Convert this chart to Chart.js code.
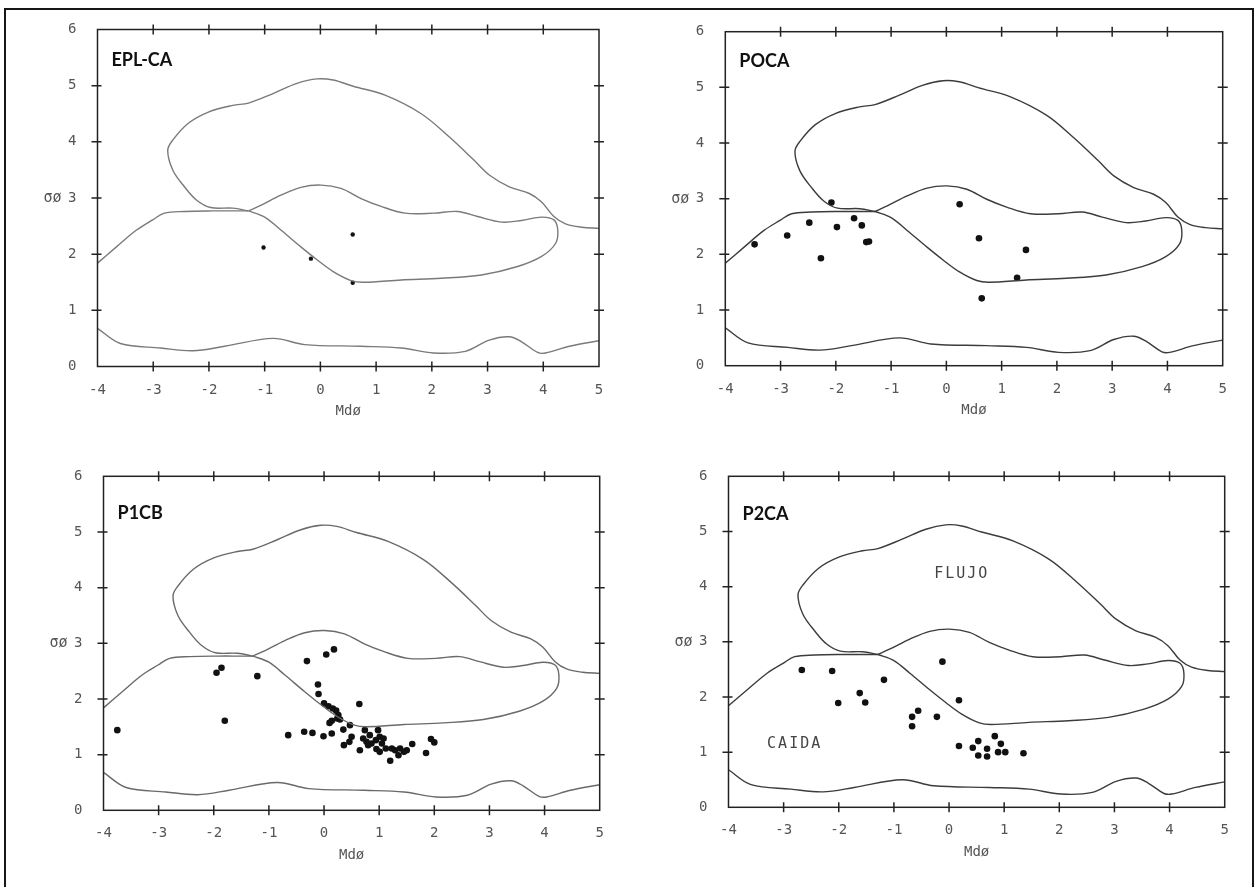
<!DOCTYPE html>
<html>
<head>
<meta charset="utf-8">
<script src="https://cdn.jsdelivr.net/npm/chart.js@4.4.1/dist/chart.umd.min.js"></script>
<style>
  body { margin: 0; background: #fff; }
  #fig { position: relative; width: 1258px; height: 887px; overflow: hidden; }
  #fig canvas { position: absolute; }
  #frame { position: absolute; left: 4px; top: 8px; width: 1246px; height: 900px;
           border: 2px solid #161616; border-bottom: none; }
</style>
</head>
<body>
<div id="fig">
  <div id="frame"></div>
  <canvas id="c1" width="629" height="443" style="left:0;top:0"></canvas>
  <canvas id="c2" width="629" height="443" style="left:629px;top:0"></canvas>
  <canvas id="c3" width="629" height="444" style="left:0;top:443px"></canvas>
  <canvas id="c4" width="629" height="444" style="left:629px;top:443px"></canvas>
</div>
<script>
// ---- ejes ----
const xTickValues = [-4, -3, -2, -1, 0, 1, 2, 3, 4, 5];
const yTickValues = [0, 1, 2, 3, 4, 5, 6];
const panelNames = ['EPL-CA', 'POCA', 'P1CB', 'P2CA'];

// ---- campos (Md, sigma) ----
// campo superior (flujo) con su cola hacia la derecha
const upperMd    = [-1.29, -1.57, -1.97, -2.22, -2.44, -2.65, -2.74, -2.65, -2.37, -2.01, -1.57, -1.29, -0.85, -0.42, -0.06, 0.23, 0.59, 1.16, 1.81, 2.31, 2.75, 3.03, 3.39, 3.75, 3.97, 4.19, 4.40, 4.69, 5.0];
const upperSigma = [2.77, 2.82, 2.83, 2.96, 3.20, 3.50, 3.85, 4.03, 4.33, 4.53, 4.65, 4.69, 4.86, 5.04, 5.12, 5.10, 4.99, 4.83, 4.50, 4.09, 3.68, 3.41, 3.20, 3.08, 2.93, 2.67, 2.54, 2.48, 2.46];
// bucle central
const middleMd    = [-1.29, -1.07, -0.71, -0.35, 0.01, 0.37, 0.73, 1.09, 1.52, 2.03, 2.46, 2.82, 3.25, 3.61, 3.97, 4.19, 4.26, 4.22, 3.97, 3.54, 2.89, 2.17, 1.45, 0.77, 0.55, 0.23, -0.06, -0.35, -0.71, -1.0, -1.29];
const middleSigma = [2.77, 2.87, 3.05, 3.19, 3.23, 3.17, 2.99, 2.85, 2.73, 2.73, 2.76, 2.67, 2.57, 2.60, 2.66, 2.61, 2.43, 2.19, 1.96, 1.78, 1.63, 1.57, 1.54, 1.50, 1.53, 1.69, 1.90, 2.13, 2.43, 2.66, 2.77];
// limite izquierdo (caida)
const leftMd    = [-4.0, -3.66, -3.30, -3.01, -2.80, -2.44, -1.93, -1.50, -1.29];
const leftSigma = [1.84, 2.13, 2.43, 2.61, 2.73, 2.76, 2.77, 2.77, 2.77];
// limite inferior
const lowerMd    = [-4.0, -3.59, -2.87, -2.29, -1.72, -0.85, -0.28, 0.73, 1.45, 2.03, 2.60, 3.03, 3.39, 3.61, 3.90, 4.04, 4.47, 5.0];
const lowerSigma = [0.68, 0.41, 0.33, 0.28, 0.36, 0.50, 0.39, 0.36, 0.33, 0.24, 0.27, 0.47, 0.53, 0.44, 0.25, 0.24, 0.36, 0.46];

// ---- muestras ----
const eplMd    = [-1.02, -0.17, 0.58, 0.58];
const eplSigma = [2.12, 1.92, 2.35, 1.49];

const pocaMd    = [-3.47, -2.88, -2.48, -2.27, -2.08, -1.98, -1.67, -1.53, -1.45, -1.40, 0.24, 0.59, 1.44, 1.28, 0.64];
const pocaSigma = [2.18, 2.34, 2.57, 1.93, 2.93, 2.49, 2.65, 2.52, 2.22, 2.23, 2.90, 2.29, 2.08, 1.58, 1.21];

const p1cbMd    = [-3.75, -1.95, -1.86, -1.80, -1.21, -0.31, 0.04, 0.18, -0.11,
                   -0.10, 0.0, 0.08, 0.16, 0.22, 0.26, 0.24, 0.14, 0.10, 0.29, 0.64,
                   -0.65, -0.36, -0.21, -0.01, 0.14, 0.35, 0.47, 0.50, 0.46, 0.36, 0.65,
                   0.74, 0.71, 0.77, 0.83, 0.86, 0.94, 0.98, 1.01, 1.08, 0.95, 1.01, 1.12,
                   1.20, 1.23, 1.29, 1.35, 1.38, 1.45, 1.50, 1.60, 1.85, 1.94, 2.0, 0.80, 1.05];
const p1cbSigma = [1.44, 2.47, 2.56, 1.61, 2.41, 2.68, 2.80, 2.89, 2.26,
                   2.09, 1.92, 1.87, 1.83, 1.79, 1.71, 1.65, 1.61, 1.57, 1.63, 1.91,
                   1.35, 1.41, 1.39, 1.33, 1.38, 1.45, 1.53, 1.32, 1.23, 1.17, 1.08,
                   1.44, 1.29, 1.23, 1.35, 1.20, 1.26, 1.44, 1.32, 1.29, 1.10, 1.05, 1.11,
                   0.89, 1.11, 1.08, 0.99, 1.11, 1.05, 1.08, 1.19, 1.03, 1.28, 1.22, 1.17, 1.20];

const p2caMd    = [-2.67, -2.12, -2.01, -1.62, -1.52, -1.18, -0.67, -0.67, -0.56, -0.22, -0.12, 0.18, 0.18, 0.43, 0.53, 0.53, 0.69, 0.69, 0.83, 0.89, 0.94, 1.02, 1.35];
const p2caSigma = [2.49, 2.47, 1.89, 2.07, 1.90, 2.31, 1.64, 1.47, 1.75, 1.64, 2.64, 1.94, 1.11, 1.08, 1.20, 0.94, 1.06, 0.92, 1.29, 1.00, 1.15, 1.00, 0.98];

const fieldLabels = [{ text: 'FLUJO', md: 0.23, sigma: 4.22 }, { text: 'CAIDA', md: -2.8, sigma: 1.15 }];

function pairs(xs, ys) { return xs.map((v, i) => ({ x: v, y: ys[i] })); }

const framePlugin = {
  id: 'frame',
  afterDraw(chart, args, opts) {
    const { ctx, chartArea: a, scales: { x, y } } = chart;
    ctx.save();
    ctx.strokeStyle = '#222';
    ctx.lineWidth = 1.5;
    ctx.strokeRect(a.left, a.top, a.width, a.height);
    ctx.beginPath();
    xTickValues.slice(1, -1).forEach(v => {
      const px = x.getPixelForValue(v);
      ctx.moveTo(px, a.top - 5); ctx.lineTo(px, a.top + 5);
      ctx.moveTo(px, a.bottom - 5); ctx.lineTo(px, a.bottom + 5);
    });
    yTickValues.slice(1, -1).forEach(v => {
      const py = y.getPixelForValue(v);
      ctx.moveTo(a.left - 6, py); ctx.lineTo(a.left + 4, py);
      ctx.moveTo(a.right - 5, py); ctx.lineTo(a.right + 5, py);
    });
    ctx.stroke();

    // nombre de la muestra
    ctx.fillStyle = '#111';
    ctx.font = 'bold 18px Lato';
    ctx.textBaseline = 'middle';
    ctx.textAlign = 'left';
    ctx.fillText(opts.title, a.left + 14, a.top + opts.titleDy);

    // titulos de ejes
    ctx.fillStyle = '#555';
    ctx.font = '14px "DejaVu Sans Mono"';
    ctx.textAlign = 'center';
    ctx.fillText('Mdø', (a.left + a.right) / 2, a.bottom + 45);
    ctx.textAlign = 'right';
    ctx.font = '15px "DejaVu Sans Mono"';
    ctx.fillText('σø', a.left - 36, y.getPixelForValue(3));

    if (opts.labels) {
      ctx.fillStyle = '#444';
      ctx.font = '15px "DejaVu Sans Mono"';
      ctx.letterSpacing = '2px';
      ctx.textAlign = 'center';
      opts.labels.forEach(l => ctx.fillText(l.text, x.getPixelForValue(l.md), y.getPixelForValue(l.sigma)));
    }
    ctx.restore();
  }
};

function makePanel(id, idx, md, sigma, opt) {
  const curve = (xs, ys) => ({
    data: pairs(xs, ys), showLine: true, pointRadius: 0,
    borderColor: opt.curveColor, borderWidth: 1.4, tension: 0.35, fill: false
  });
  new Chart(document.getElementById(id), {
    type: 'scatter',
    data: {
      datasets: [
        curve(upperMd, upperSigma),
        curve(middleMd, middleSigma),
        curve(leftMd, leftSigma),
        curve(lowerMd, lowerSigma),
        {
          data: pairs(md, sigma), pointRadius: opt.dot, pointStyle: 'circle',
          backgroundColor: '#111', borderColor: '#111', borderWidth: 0
        }
      ]
    },
    options: {
      responsive: false,
      animation: false,
      layout: { padding: opt.pad },
      plugins: {
        legend: { display: false },
        tooltip: { enabled: false },
        frame: { title: panelNames[idx], titleDy: opt.titleDy, labels: opt.labels }
      },
      scales: {
        x: {
          type: 'linear', min: -4, max: 5,
          afterBuildTicks: s => { s.ticks = xTickValues.map(v => ({ value: v })); },
          afterFit: s => { s.height = 40; },
          grid: { display: false, drawTicks: false },
          border: { display: false },
          ticks: { padding: 15, color: '#555', font: { family: 'DejaVu Sans Mono', size: 14 } }
        },
        y: {
          type: 'linear', min: 0, max: 6,
          afterBuildTicks: s => { s.ticks = yTickValues.map(v => ({ value: v })); },
          afterFit: s => { s.width = 60; },
          grid: { display: false, drawTicks: false },
          border: { display: false },
          ticks: { padding: 21, color: '#555', font: { family: 'DejaVu Sans Mono', size: 14 } }
        }
      }
    },
    plugins: [framePlugin]
  });
}

// padding = posicion del area de trazado dentro de cada lienzo
makePanel('c1', 0, eplMd, eplSigma,
  { curveColor: '#7a7a7a', dot: 2.2, titleDy: 31, pad: { left: 37.5, right: 30, top: 29.5, bottom: 36.5 } });
makePanel('c2', 1, pocaMd, pocaSigma,
  { curveColor: '#3c3c3c', dot: 3.3, titleDy: 29, pad: { left: 36.3, right: 35.3, top: 31.7, bottom: 37.3 } });
makePanel('c3', 2, p1cbMd, p1cbSigma,
  { curveColor: '#6a6a6a', dot: 3.3, titleDy: 37, pad: { left: 43.5, right: 29.3, top: 33.3, bottom: 36.7 } });
makePanel('c4', 3, p2caMd, p2caSigma,
  { curveColor: '#3c3c3c', dot: 3.3, titleDy: 38, labels: fieldLabels, pad: { left: 39.5, right: 33.3, top: 33.3, bottom: 39.7 } });
</script>
</body>
</html>
